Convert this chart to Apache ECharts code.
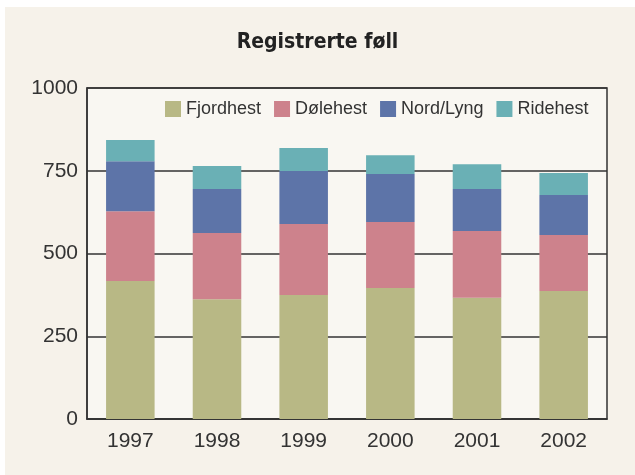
<!DOCTYPE html>
<html>
<head>
<meta charset="utf-8">
<script src="https://cdn.jsdelivr.net/npm/echarts@6/dist/echarts.min.js"></script>
<style>
  html, body { margin: 0; padding: 0; background: #ffffff; }
  #chart { width: 635px; height: 475px; }
</style>
</head>
<body>
<div id="chart"></div>
<script>
// data
const years = ['1997', '1998', '1999', '2000', '2001', '2002']
const fjordhest = [417, 362, 375, 396, 366, 387]
const dolehest = [211, 200, 214, 199, 202, 169]
const nordLyng = [151, 133, 160, 145, 127, 121]
const ridehest = [64, 69, 70, 57, 75, 66]
const yTicks = [0, 250, 500, 750, 1000]

const colors = ['#b8b885', '#cd828c', '#5d74a8', '#6ab0b5']
const chart = echarts.init(document.getElementById('chart'))

function bar(name, data) {
  return {
    name: name,
    type: 'bar',
    stack: 'total',
    barWidth: '56%',
    data: data,
  }
}

chart.setOption({
  backgroundColor: '#ffffff',
  color: colors,
  graphic: [
    {
      type: 'rect',
      z: -10,
      shape: { x: 5, y: 7, width: 630, height: 468 },
      style: { fill: '#f6f2ea' },
    },
  ],
  title: {
    text: 'Registrerte føll',
    left: 'center',
    top: 32,
    padding: 0,
    textStyle: {
      fontFamily: '"DejaVu Sans Condensed", "Liberation Sans", sans-serif',
      fontWeight: 'bold',
      fontSize: 21,
      color: '#222',
    },
  },
  legend: {
    left: 165,
    top: 100,
    itemWidth: 16,
    itemHeight: 16,
    itemGap: 13,
    padding: 0,
    icon: 'rect',
    textStyle: {
      fontFamily: 'Liberation Sans',
      fontSize: 18,
      color: '#333',
    },
  },
  grid: {
    left: 87,
    right: 28,
    top: 88,
    bottom: 56,
    show: true,
    backgroundColor: '#f9f7f2',
    borderColor: '#333',
    borderWidth: 1.5,
  },
  xAxis: {
    type: 'category',
    data: years,
    axisLine: { lineStyle: { color: '#333', width: 1.5 } },
    axisTick: { inside: true, length: 8, lineStyle: { color: '#333', width: 1.5 } },
    axisLabel: {
      margin: 12,
      fontFamily: 'Liberation Sans',
      fontSize: 21,
      color: '#333',
    },
  },
  yAxis: {
    type: 'value',
    min: yTicks[0],
    max: yTicks[yTicks.length - 1],
    interval: 250,
    axisLine: { show: true, lineStyle: { color: '#333', width: 1.5 } },
    axisTick: { show: false },
    splitLine: { lineStyle: { color: '#333', width: 1.5 } },
    axisLabel: {
      margin: 9,
      formatter: v => String(v),
      fontFamily: 'Liberation Sans',
      fontSize: 21,
      color: '#333',
    },
  },
  series: [
    bar('Fjordhest', fjordhest),
    bar('Dølehest', dolehest),
    bar('Nord/Lyng', nordLyng),
    bar('Ridehest', ridehest),
  ],
})
</script>
</body>
</html>
